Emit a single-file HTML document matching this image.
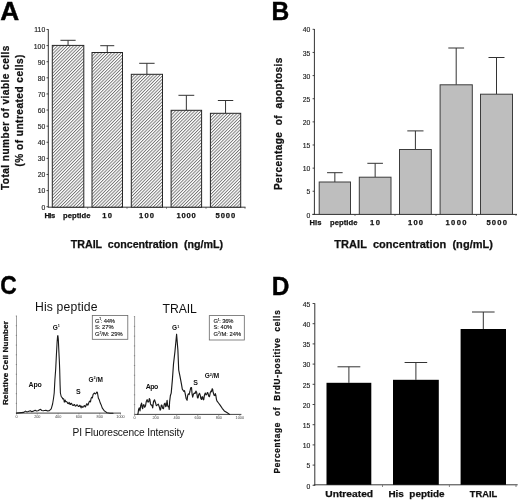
<!DOCTYPE html>
<html><head><meta charset="utf-8"><style>
html,body{margin:0;padding:0;background:#fff;}
svg{display:block;will-change:transform;filter:blur(0.35px);}
text{font-family:"Liberation Sans",sans-serif;white-space:pre;}
</style></head><body>
<svg width="520" height="502" viewBox="0 0 520 502">
<defs>
<pattern id="hatch" patternUnits="userSpaceOnUse" width="2.27" height="10" patternTransform="rotate(45)">
<rect width="2.27" height="10" fill="#fff"/>
<line x1="0.5" y1="0" x2="0.5" y2="10" stroke="#5c5c5c" stroke-width="0.78"/>
</pattern>
</defs>
<rect width="520" height="502" fill="#fff"/>
<text transform="translate(0.25,19.9) scale(1.035,1)" font-size="25.4" font-weight="bold" fill="#000" stroke="#000" stroke-width="0.4">A</text>
<line x1="48.3" y1="29.2" x2="48.3" y2="207.7" stroke="#333" stroke-width="1"/>
<line x1="48.3" y1="207.2" x2="245.5" y2="207.2" stroke="#333" stroke-width="1"/>
<line x1="46.5" y1="206.7" x2="48.3" y2="206.7" stroke="#333" stroke-width="0.9"/>
<text x="45.2" y="209.6" font-size="6.8" text-anchor="end" fill="#1e1e1e" stroke="#1e1e1e" stroke-width="0.15">0</text>
<line x1="46.5" y1="190.58999999999997" x2="48.3" y2="190.58999999999997" stroke="#333" stroke-width="0.9"/>
<text x="45.2" y="193.48999999999998" font-size="6.8" text-anchor="end" fill="#1e1e1e" stroke="#1e1e1e" stroke-width="0.15">10</text>
<line x1="46.5" y1="174.48" x2="48.3" y2="174.48" stroke="#333" stroke-width="0.9"/>
<text x="45.2" y="177.38" font-size="6.8" text-anchor="end" fill="#1e1e1e" stroke="#1e1e1e" stroke-width="0.15">20</text>
<line x1="46.5" y1="158.37" x2="48.3" y2="158.37" stroke="#333" stroke-width="0.9"/>
<text x="45.2" y="161.27" font-size="6.8" text-anchor="end" fill="#1e1e1e" stroke="#1e1e1e" stroke-width="0.15">30</text>
<line x1="46.5" y1="142.26" x2="48.3" y2="142.26" stroke="#333" stroke-width="0.9"/>
<text x="45.2" y="145.16" font-size="6.8" text-anchor="end" fill="#1e1e1e" stroke="#1e1e1e" stroke-width="0.15">40</text>
<line x1="46.5" y1="126.14999999999999" x2="48.3" y2="126.14999999999999" stroke="#333" stroke-width="0.9"/>
<text x="45.2" y="129.04999999999998" font-size="6.8" text-anchor="end" fill="#1e1e1e" stroke="#1e1e1e" stroke-width="0.15">50</text>
<line x1="46.5" y1="110.03999999999999" x2="48.3" y2="110.03999999999999" stroke="#333" stroke-width="0.9"/>
<text x="45.2" y="112.94" font-size="6.8" text-anchor="end" fill="#1e1e1e" stroke="#1e1e1e" stroke-width="0.15">60</text>
<line x1="46.5" y1="93.92999999999999" x2="48.3" y2="93.92999999999999" stroke="#333" stroke-width="0.9"/>
<text x="45.2" y="96.83" font-size="6.8" text-anchor="end" fill="#1e1e1e" stroke="#1e1e1e" stroke-width="0.15">70</text>
<line x1="46.5" y1="77.82" x2="48.3" y2="77.82" stroke="#333" stroke-width="0.9"/>
<text x="45.2" y="80.72" font-size="6.8" text-anchor="end" fill="#1e1e1e" stroke="#1e1e1e" stroke-width="0.15">80</text>
<line x1="46.5" y1="61.70999999999998" x2="48.3" y2="61.70999999999998" stroke="#333" stroke-width="0.9"/>
<text x="45.2" y="64.60999999999999" font-size="6.8" text-anchor="end" fill="#1e1e1e" stroke="#1e1e1e" stroke-width="0.15">90</text>
<line x1="46.5" y1="45.599999999999994" x2="48.3" y2="45.599999999999994" stroke="#333" stroke-width="0.9"/>
<text x="45.2" y="48.49999999999999" font-size="6.8" text-anchor="end" fill="#1e1e1e" stroke="#1e1e1e" stroke-width="0.15">100</text>
<line x1="46.5" y1="29.48999999999998" x2="48.3" y2="29.48999999999998" stroke="#333" stroke-width="0.9"/>
<text x="45.2" y="32.38999999999998" font-size="6.8" text-anchor="end" fill="#1e1e1e" stroke="#1e1e1e" stroke-width="0.15">110</text>
<line x1="68.05" y1="40.3" x2="68.05" y2="45.4" stroke="#333" stroke-width="1"/>
<line x1="60.449999999999996" y1="40.3" x2="75.64999999999999" y2="40.3" stroke="#333" stroke-width="1"/>
<rect x="52.3" y="45.4" width="31.5" height="161.79999999999998" fill="url(#hatch)" stroke="#262626" stroke-width="1"/>
<line x1="107.25" y1="45.7" x2="107.25" y2="52.5" stroke="#333" stroke-width="1"/>
<line x1="100.25" y1="45.7" x2="114.25" y2="45.7" stroke="#333" stroke-width="1"/>
<rect x="92" y="52.5" width="30.5" height="154.7" fill="url(#hatch)" stroke="#262626" stroke-width="1"/>
<line x1="146.9" y1="63.3" x2="146.9" y2="74.3" stroke="#333" stroke-width="1"/>
<line x1="139.20000000000002" y1="63.3" x2="154.6" y2="63.3" stroke="#333" stroke-width="1"/>
<rect x="131.3" y="74.3" width="31.19999999999999" height="132.89999999999998" fill="url(#hatch)" stroke="#262626" stroke-width="1"/>
<line x1="186.35" y1="95.3" x2="186.35" y2="110.3" stroke="#333" stroke-width="1"/>
<line x1="178.45" y1="95.3" x2="194.25" y2="95.3" stroke="#333" stroke-width="1"/>
<rect x="171.1" y="110.3" width="30.5" height="96.89999999999999" fill="url(#hatch)" stroke="#262626" stroke-width="1"/>
<line x1="225.55" y1="100.5" x2="225.55" y2="113.3" stroke="#333" stroke-width="1"/>
<line x1="217.85000000000002" y1="100.5" x2="233.25" y2="100.5" stroke="#333" stroke-width="1"/>
<rect x="210.4" y="113.3" width="30.299999999999983" height="93.89999999999999" fill="url(#hatch)" stroke="#262626" stroke-width="1"/>
<line x1="87.7" y1="207.2" x2="87.7" y2="208.7" stroke="#444" stroke-width="0.8"/>
<line x1="127" y1="207.2" x2="127" y2="208.7" stroke="#444" stroke-width="0.8"/>
<line x1="166.5" y1="207.2" x2="166.5" y2="208.7" stroke="#444" stroke-width="0.8"/>
<line x1="206" y1="207.2" x2="206" y2="208.7" stroke="#444" stroke-width="0.8"/>
<line x1="245" y1="207.2" x2="245" y2="208.7" stroke="#444" stroke-width="0.8"/>
<text x="44.4" y="217.6" font-size="7.6" font-weight="bold" textLength="10.800000000000004" lengthAdjust="spacing" fill="#151515" stroke="#111" stroke-width="0.25">His</text>
<text x="63" y="217.6" font-size="7.6" font-weight="bold" textLength="27.5" lengthAdjust="spacing" fill="#151515" stroke="#111" stroke-width="0.25">peptide</text>
<text x="102.2" y="217.6" font-size="7.6" font-weight="bold" textLength="9.799999999999997" lengthAdjust="spacing" fill="#151515" stroke="#111" stroke-width="0.25">1 0</text>
<text x="139" y="217.6" font-size="7.6" font-weight="bold" textLength="15" lengthAdjust="spacing" fill="#151515" stroke="#111" stroke-width="0.25">100</text>
<text x="176.5" y="217.6" font-size="7.6" font-weight="bold" textLength="19.30000000000001" lengthAdjust="spacing" fill="#151515" stroke="#111" stroke-width="0.25">1000</text>
<text x="215.6" y="217.6" font-size="7.6" font-weight="bold" textLength="19.599999999999994" lengthAdjust="spacing" fill="#151515" stroke="#111" stroke-width="0.25">5000</text>
<text x="70.8" y="247.7" font-size="10.7" font-weight="bold" textLength="152.2" lengthAdjust="spacing" fill="#111" stroke="#111" stroke-width="0.25">TRAIL  concentration  (ng/mL)</text>
<text x="0" y="0" font-size="10.1" text-anchor="middle" font-weight="bold" textLength="144.5" lengthAdjust="spacing" fill="#111" stroke="#111" stroke-width="0.25" transform="translate(9.4,117.8) rotate(-90)">Total number of viable cells</text>
<text x="0" y="0" font-size="10.1" text-anchor="middle" font-weight="bold" textLength="112" lengthAdjust="spacing" fill="#111" stroke="#111" stroke-width="0.25" transform="translate(22.6,110.5) rotate(-90)">(% of untreated cells)</text>
<text transform="translate(271.55,19.6) scale(0.968,1)" font-size="25.4" font-weight="bold" fill="#000" stroke="#000" stroke-width="0.4">B</text>
<line x1="314.4" y1="29.0" x2="314.4" y2="214.9" stroke="#333" stroke-width="1"/>
<line x1="312.4" y1="214.4" x2="517" y2="214.4" stroke="#333" stroke-width="1"/>
<line x1="312.59999999999997" y1="214.4" x2="314.4" y2="214.4" stroke="#333" stroke-width="0.9"/>
<text x="310.3" y="217.5" font-size="6.8" text-anchor="end" fill="#1e1e1e" stroke="#1e1e1e" stroke-width="0.15">0</text>
<line x1="312.59999999999997" y1="191.26500000000001" x2="314.4" y2="191.26500000000001" stroke="#333" stroke-width="0.9"/>
<text x="310.3" y="194.365" font-size="6.8" text-anchor="end" fill="#1e1e1e" stroke="#1e1e1e" stroke-width="0.15">5</text>
<line x1="312.59999999999997" y1="168.13" x2="314.4" y2="168.13" stroke="#333" stroke-width="0.9"/>
<text x="310.3" y="171.23" font-size="6.8" text-anchor="end" fill="#1e1e1e" stroke="#1e1e1e" stroke-width="0.15">10</text>
<line x1="312.59999999999997" y1="144.995" x2="314.4" y2="144.995" stroke="#333" stroke-width="0.9"/>
<text x="310.3" y="148.095" font-size="6.8" text-anchor="end" fill="#1e1e1e" stroke="#1e1e1e" stroke-width="0.15">15</text>
<line x1="312.59999999999997" y1="121.86000000000001" x2="314.4" y2="121.86000000000001" stroke="#333" stroke-width="0.9"/>
<text x="310.3" y="124.96000000000001" font-size="6.8" text-anchor="end" fill="#1e1e1e" stroke="#1e1e1e" stroke-width="0.15">20</text>
<line x1="312.59999999999997" y1="98.72500000000001" x2="314.4" y2="98.72500000000001" stroke="#333" stroke-width="0.9"/>
<text x="310.3" y="101.825" font-size="6.8" text-anchor="end" fill="#1e1e1e" stroke="#1e1e1e" stroke-width="0.15">25</text>
<line x1="312.59999999999997" y1="75.59" x2="314.4" y2="75.59" stroke="#333" stroke-width="0.9"/>
<text x="310.3" y="78.69" font-size="6.8" text-anchor="end" fill="#1e1e1e" stroke="#1e1e1e" stroke-width="0.15">30</text>
<line x1="312.59999999999997" y1="52.45500000000001" x2="314.4" y2="52.45500000000001" stroke="#333" stroke-width="0.9"/>
<text x="310.3" y="55.555000000000014" font-size="6.8" text-anchor="end" fill="#1e1e1e" stroke="#1e1e1e" stroke-width="0.15">35</text>
<line x1="312.59999999999997" y1="29.32000000000002" x2="314.4" y2="29.32000000000002" stroke="#333" stroke-width="0.9"/>
<text x="310.3" y="32.42000000000002" font-size="6.8" text-anchor="end" fill="#1e1e1e" stroke="#1e1e1e" stroke-width="0.15">40</text>
<line x1="334.85" y1="172.7" x2="334.85" y2="182.0" stroke="#333" stroke-width="1"/>
<line x1="327.05" y1="172.7" x2="342.65000000000003" y2="172.7" stroke="#333" stroke-width="1"/>
<rect x="319.2" y="182.0" width="31.30000000000001" height="32.400000000000006" fill="#bebebe" stroke="#3c3c3c" stroke-width="1"/>
<line x1="375.15" y1="163.3" x2="375.15" y2="177.2" stroke="#333" stroke-width="1"/>
<line x1="367.34999999999997" y1="163.3" x2="382.95" y2="163.3" stroke="#333" stroke-width="1"/>
<rect x="359.3" y="177.2" width="31.69999999999999" height="37.20000000000002" fill="#bebebe" stroke="#3c3c3c" stroke-width="1"/>
<line x1="415.4" y1="130.9" x2="415.4" y2="149.5" stroke="#333" stroke-width="1"/>
<line x1="407.29999999999995" y1="130.9" x2="423.5" y2="130.9" stroke="#333" stroke-width="1"/>
<rect x="399.5" y="149.5" width="31.80000000000001" height="64.9" fill="#bebebe" stroke="#3c3c3c" stroke-width="1"/>
<line x1="456.20000000000005" y1="48" x2="456.20000000000005" y2="84.8" stroke="#333" stroke-width="1"/>
<line x1="448.30000000000007" y1="48" x2="464.1" y2="48" stroke="#333" stroke-width="1"/>
<rect x="440.1" y="84.8" width="32.19999999999999" height="129.60000000000002" fill="#bebebe" stroke="#3c3c3c" stroke-width="1"/>
<line x1="496.5" y1="57.5" x2="496.5" y2="94.2" stroke="#333" stroke-width="1"/>
<line x1="488.5" y1="57.5" x2="504.5" y2="57.5" stroke="#333" stroke-width="1"/>
<rect x="480.5" y="94.2" width="32.0" height="120.2" fill="#bebebe" stroke="#3c3c3c" stroke-width="1"/>
<line x1="355" y1="214.4" x2="355" y2="215.9" stroke="#444" stroke-width="0.8"/>
<line x1="395" y1="214.4" x2="395" y2="215.9" stroke="#444" stroke-width="0.8"/>
<line x1="436" y1="214.4" x2="436" y2="215.9" stroke="#444" stroke-width="0.8"/>
<line x1="476.5" y1="214.4" x2="476.5" y2="215.9" stroke="#444" stroke-width="0.8"/>
<line x1="516" y1="214.4" x2="516" y2="215.9" stroke="#444" stroke-width="0.8"/>
<text x="309.6" y="225.3" font-size="7.6" font-weight="bold" textLength="11.799999999999955" lengthAdjust="spacing" fill="#151515" stroke="#111" stroke-width="0.25">His</text>
<text x="330" y="225.3" font-size="7.6" font-weight="bold" textLength="27.5" lengthAdjust="spacing" fill="#151515" stroke="#111" stroke-width="0.25">peptide</text>
<text x="370" y="225.3" font-size="7.6" font-weight="bold" textLength="10" lengthAdjust="spacing" fill="#151515" stroke="#111" stroke-width="0.25">1 0</text>
<text x="408" y="225.3" font-size="7.6" font-weight="bold" textLength="15" lengthAdjust="spacing" fill="#151515" stroke="#111" stroke-width="0.25">100</text>
<text x="445.5" y="225.3" font-size="7.6" font-weight="bold" textLength="21.0" lengthAdjust="spacing" fill="#151515" stroke="#111" stroke-width="0.25">1000</text>
<text x="486.4" y="225.3" font-size="7.6" font-weight="bold" textLength="20.600000000000023" lengthAdjust="spacing" fill="#151515" stroke="#111" stroke-width="0.25">5000</text>
<text x="334.3" y="247.7" font-size="11.0" font-weight="bold" textLength="158.7" lengthAdjust="spacing" fill="#111" stroke="#111" stroke-width="0.25">TRAIL  concentration  (ng/mL)</text>
<text x="0" y="0" font-size="10" text-anchor="middle" font-weight="bold" textLength="132.3" lengthAdjust="spacing" fill="#111" stroke="#111" stroke-width="0.25" transform="translate(281.6,123.9) rotate(-90)">Percentage  of  apoptosis</text>
<text transform="translate(0.22,294.25) scale(0.897,1)" font-size="25.4" font-weight="bold" fill="#000" stroke="#000" stroke-width="0.4">C</text>
<text x="35" y="310.8" font-size="12.2" textLength="62.5" lengthAdjust="spacing" fill="#111" >His peptide</text>
<text x="162.5" y="312.5" font-size="12.2" textLength="34.3" lengthAdjust="spacing" fill="#111" >TRAIL</text>
<text x="72.5" y="435.6" font-size="10.2" textLength="111.8" lengthAdjust="spacing" fill="#111" >PI Fluorescence Intensity</text>
<text x="0" y="0" font-size="8.1" text-anchor="middle" font-weight="bold" textLength="84.0" lengthAdjust="spacing" fill="#111" stroke="#111" stroke-width="0.25" transform="translate(7.7,363.0) rotate(-90)">Relative Cell Number</text>
<line x1="16.5" y1="316" x2="16.5" y2="413.5" stroke="#8a8a8a" stroke-width="0.8"/>
<line x1="16.5" y1="413.1" x2="121" y2="413.1" stroke="#444" stroke-width="1"/>
<line x1="134.6" y1="316.6" x2="134.6" y2="414.8" stroke="#8a8a8a" stroke-width="0.8"/>
<line x1="134.6" y1="414.4" x2="241.4" y2="414.4" stroke="#444" stroke-width="1"/>
<line x1="16.5" y1="413" x2="16.5" y2="414.5" stroke="#666" stroke-width="0.6"/>
<text x="16.5" y="417.7" font-size="3.8" text-anchor="middle" fill="#444" >0</text>
<line x1="134.6" y1="414.4" x2="134.6" y2="416" stroke="#666" stroke-width="0.6"/>
<text x="134.6" y="419.2" font-size="3.8" text-anchor="middle" fill="#444" >0</text>
<line x1="37.3" y1="413" x2="37.3" y2="414.5" stroke="#666" stroke-width="0.6"/>
<text x="37.3" y="417.7" font-size="3.8" text-anchor="middle" fill="#444" >200</text>
<line x1="155.65" y1="414.4" x2="155.65" y2="416" stroke="#666" stroke-width="0.6"/>
<text x="155.65" y="419.2" font-size="3.8" text-anchor="middle" fill="#444" >200</text>
<line x1="58.1" y1="413" x2="58.1" y2="414.5" stroke="#666" stroke-width="0.6"/>
<text x="58.1" y="417.7" font-size="3.8" text-anchor="middle" fill="#444" >400</text>
<line x1="176.7" y1="414.4" x2="176.7" y2="416" stroke="#666" stroke-width="0.6"/>
<text x="176.7" y="419.2" font-size="3.8" text-anchor="middle" fill="#444" >400</text>
<line x1="78.9" y1="413" x2="78.9" y2="414.5" stroke="#666" stroke-width="0.6"/>
<text x="78.9" y="417.7" font-size="3.8" text-anchor="middle" fill="#444" >600</text>
<line x1="197.75" y1="414.4" x2="197.75" y2="416" stroke="#666" stroke-width="0.6"/>
<text x="197.75" y="419.2" font-size="3.8" text-anchor="middle" fill="#444" >600</text>
<line x1="99.7" y1="413" x2="99.7" y2="414.5" stroke="#666" stroke-width="0.6"/>
<text x="99.7" y="417.7" font-size="3.8" text-anchor="middle" fill="#444" >800</text>
<line x1="218.8" y1="414.4" x2="218.8" y2="416" stroke="#666" stroke-width="0.6"/>
<text x="218.8" y="419.2" font-size="3.8" text-anchor="middle" fill="#444" >800</text>
<line x1="120.5" y1="413" x2="120.5" y2="414.5" stroke="#666" stroke-width="0.6"/>
<text x="120.5" y="417.7" font-size="3.8" text-anchor="middle" fill="#444" >1000</text>
<line x1="239.85" y1="414.4" x2="239.85" y2="416" stroke="#666" stroke-width="0.6"/>
<text x="239.85" y="419.2" font-size="3.8" text-anchor="middle" fill="#444" >1000</text>
<line x1="15.8" y1="413.1" x2="17.0" y2="413.1" stroke="#777" stroke-width="0.8"/>
<line x1="133.9" y1="414.4" x2="135.1" y2="414.4" stroke="#777" stroke-width="0.8"/>
<line x1="15.8" y1="403.39000000000004" x2="17.0" y2="403.39000000000004" stroke="#777" stroke-width="0.8"/>
<line x1="133.9" y1="404.62" x2="135.1" y2="404.62" stroke="#777" stroke-width="0.8"/>
<line x1="15.8" y1="393.68" x2="17.0" y2="393.68" stroke="#777" stroke-width="0.8"/>
<line x1="133.9" y1="394.84" x2="135.1" y2="394.84" stroke="#777" stroke-width="0.8"/>
<line x1="15.8" y1="383.97" x2="17.0" y2="383.97" stroke="#777" stroke-width="0.8"/>
<line x1="133.9" y1="385.06" x2="135.1" y2="385.06" stroke="#777" stroke-width="0.8"/>
<line x1="15.8" y1="374.26" x2="17.0" y2="374.26" stroke="#777" stroke-width="0.8"/>
<line x1="133.9" y1="375.28" x2="135.1" y2="375.28" stroke="#777" stroke-width="0.8"/>
<line x1="15.8" y1="364.55" x2="17.0" y2="364.55" stroke="#777" stroke-width="0.8"/>
<line x1="133.9" y1="365.5" x2="135.1" y2="365.5" stroke="#777" stroke-width="0.8"/>
<line x1="15.8" y1="354.84000000000003" x2="17.0" y2="354.84000000000003" stroke="#777" stroke-width="0.8"/>
<line x1="133.9" y1="355.71999999999997" x2="135.1" y2="355.71999999999997" stroke="#777" stroke-width="0.8"/>
<line x1="15.8" y1="345.13" x2="17.0" y2="345.13" stroke="#777" stroke-width="0.8"/>
<line x1="133.9" y1="345.94" x2="135.1" y2="345.94" stroke="#777" stroke-width="0.8"/>
<line x1="15.8" y1="335.42" x2="17.0" y2="335.42" stroke="#777" stroke-width="0.8"/>
<line x1="133.9" y1="336.15999999999997" x2="135.1" y2="336.15999999999997" stroke="#777" stroke-width="0.8"/>
<line x1="15.8" y1="325.71000000000004" x2="17.0" y2="325.71000000000004" stroke="#777" stroke-width="0.8"/>
<line x1="133.9" y1="326.38" x2="135.1" y2="326.38" stroke="#777" stroke-width="0.8"/>
<line x1="15.8" y1="316.0" x2="17.0" y2="316.0" stroke="#777" stroke-width="0.8"/>
<line x1="133.9" y1="316.59999999999997" x2="135.1" y2="316.59999999999997" stroke="#777" stroke-width="0.8"/>
<rect x="92.3" y="315.4" width="35.5" height="23.9" fill="none" stroke="#666" stroke-width="0.8"/>
<rect x="209.3" y="315.6" width="35" height="24.4" fill="none" stroke="#666" stroke-width="0.8"/>
<text x="94.9" y="322.5" font-size="5.8" fill="#111" stroke="#111" stroke-width="0.12" textLength="19.9" lengthAdjust="spacing">G<tspan font-size="3.4" dy="-2.2">1</tspan><tspan dy="2.2">: 44%</tspan></text>
<text x="94.9" y="329.2" font-size="5.8" fill="#111" stroke="#111" stroke-width="0.12">S: 27%</text>
<text x="94.9" y="335.9" font-size="5.8" fill="#111" stroke="#111" stroke-width="0.12">G<tspan font-size="3.4" dy="-2.2">2</tspan><tspan dy="2.2">/M: 29%</tspan></text>
<text x="213.4" y="322.7" font-size="5.8" fill="#111" stroke="#111" stroke-width="0.12" textLength="19.9" lengthAdjust="spacing">G<tspan font-size="3.4" dy="-2.2">1</tspan><tspan dy="2.2">: 36%</tspan></text>
<text x="213.4" y="329.4" font-size="5.8" fill="#111" stroke="#111" stroke-width="0.12">S: 40%</text>
<text x="213.4" y="336.09999999999997" font-size="5.8" fill="#111" stroke="#111" stroke-width="0.12">G<tspan font-size="3.4" dy="-2.2">2</tspan><tspan dy="2.2">/M: 24%</tspan></text>
<text x="52.7" y="329.8" font-size="6.5" font-weight="bold" fill="#111">G<tspan font-size="3.8" dy="-2.6">1</tspan></text>
<text x="88.5" y="381.5" font-size="6.5" font-weight="bold" fill="#111">G<tspan font-size="3.8" dy="-2.6">2</tspan><tspan dy="2.6">/M</tspan></text>
<text x="172.1" y="330.2" font-size="6.5" font-weight="bold" fill="#111">G<tspan font-size="3.8" dy="-2.6">1</tspan></text>
<text x="204.8" y="378.2" font-size="6.5" font-weight="bold" fill="#111">G<tspan font-size="3.8" dy="-2.6">2</tspan><tspan dy="2.6">/M</tspan></text>
<text x="28.6" y="387.2" font-size="7" font-weight="bold" textLength="13.2" lengthAdjust="spacing" fill="#111" >Apo</text>
<text x="145.8" y="388.6" font-size="7" font-weight="bold" textLength="12.5" lengthAdjust="spacing" fill="#111" >Apo</text>
<text x="75.9" y="394" font-size="7" font-weight="bold" fill="#111" >S</text>
<text x="193.2" y="384.5" font-size="7" font-weight="bold" fill="#111" >S</text>
<polyline points="16.5,413.1 23.7,412.4 25.5,411.1 26.8,411.9 28.2,411.5 30.4,410.7 31.5,411.6 32.6,411.4 35.2,410.2 36.5,411.0 37.9,410.7 40.5,409.3 41.8,410.5 43.2,410.7 45.9,410.2 47.5,410.9 49.4,410.7 51.2,408.9 52.6,404.0 53.5,398.5 54.2,393.0 54.9,380.0 55.7,369.0 56.4,355.0 57.1,342.0 57.6,336.0 57.9,335.6 58.3,339.0 58.8,350.0 59.4,362.0 59.7,370.0 60.1,385.0 60.4,393.0 61.2,396.5 62.3,397.8 62.8,399.0 63.2,398.6 63.8,399.2 64.3,402.1 64.8,400.5 65.2,400.2 65.7,401.8 66.2,401.5 67.1,402.1 67.8,403.5 68.6,403.6 69.0,402.3 69.5,402.8 70.0,404.5 70.5,404.5 71.0,403.2 71.5,403.2 72.5,405.3 73.4,405.5 74.0,404.4 74.5,404.6 75.4,406.1 76.3,405.8 76.9,404.8 77.5,405.0 78.3,406.4 79.2,406.4 79.7,405.2 80.2,405.7 81.1,407.9 81.7,406.1 82.2,406.5 82.8,407.4 83.5,406.9 84.2,405.6 84.8,405.8 85.3,406.9 85.9,406.0 86.6,403.8 87.3,404.0 87.8,405.2 88.2,404.6 89.0,402.1 89.7,401.2 90.5,401.8 91.1,398.4 91.7,397.3 92.4,397.9 93.1,394.4 94.5,393.0 95.3,393.9 96.0,393.5 96.8,392.0 97.4,392.5 98.4,398.3 99.2,399.6 100.3,403.1 101.3,405.2 102.2,407.9 104.2,410.8 105.5,411.6 107.0,412.7 110.0,413.2 113.0,413.2" fill="none" stroke="#1a1a1a" stroke-width="1.1" stroke-linejoin="round" stroke-linecap="round"/>
<polyline points="137.5,414.2 138.0,413.9 138.6,409.4 139.2,407.9 140.0,410.9 140.8,405.1 141.6,403.1 142.1,407.5 142.7,408.7 143.3,404.8 143.9,404.7 144.7,407.3 145.5,405.9 146.3,401.5 147.1,399.6 147.9,402.0 148.7,402.0 149.3,398.6 149.9,399.6 150.5,403.9 151.1,405.1 151.9,405.0 152.7,407.9 153.5,401.6 154.5,399.8 155.5,402.7 156.3,405.7 157.1,405.1 158.3,404.1 159.5,407.5 160.1,410.1 160.7,409.1 161.3,405.1 161.9,405.1 162.7,408.3 163.5,408.7 164.3,403.9 165.1,403.1 165.7,406.7 166.3,405.9 167.1,400.4 167.6,405.4 168.2,406.7 168.7,406.0 169.2,409.5 169.6,401.9 170.4,395.5 171.2,393.1 172.4,379.6 173.5,364.0 174.9,352.0 176.6,334.2 177.9,350.3 178.7,370.0 180.0,376.4 181.5,384.3 182.3,389.1 183.9,391.5 184.5,390.7 185.1,393.1 186.1,398.4 187.1,400.3 187.7,395.4 188.3,393.9 189.1,394.6 189.9,391.5 190.7,387.8 191.5,387.5 192.1,394.1 192.7,397.1 193.5,394.1 194.3,393.1 195.1,393.5 195.9,391.1 196.7,392.6 197.5,397.9 198.1,397.9 198.7,394.7 199.5,393.3 200.3,395.5 200.9,398.6 201.5,399.5 202.1,396.7 202.6,396.7 203.1,399.4 203.7,399.8 204.5,394.9 205.3,393.0 206.1,395.0 206.9,394.0 207.4,392.5 207.9,393.0 208.7,396.0 209.5,396.7 210.3,392.6 211.1,390.9 211.6,391.7 212.1,388.8 212.6,389.0 213.2,392.5 214.0,395.2 214.8,395.6 215.3,393.6 215.8,395.1 216.4,399.1 216.9,400.9 218.5,403.0 220.1,405.1 222.2,408.3 224.3,410.9 226.9,412.5 229.6,414.4" fill="none" stroke="#1a1a1a" stroke-width="1.15" stroke-linejoin="round" stroke-linecap="round"/>
<text transform="translate(271.86,294.5) scale(0.963,1)" font-size="25.4" font-weight="bold" fill="#000" stroke="#000" stroke-width="0.4">D</text>
<line x1="314.8" y1="303.3" x2="314.8" y2="485.8" stroke="#333" stroke-width="1"/>
<line x1="313.8" y1="484.8" x2="517.7" y2="484.8" stroke="#3a3a3a" stroke-width="1"/>
<line x1="312.6" y1="485.3" x2="314.8" y2="485.3" stroke="#333" stroke-width="0.9"/>
<text x="310.4" y="488.5" font-size="6.8" text-anchor="end" fill="#1e1e1e" stroke="#1e1e1e" stroke-width="0.15">0</text>
<line x1="312.6" y1="465.1" x2="314.8" y2="465.1" stroke="#333" stroke-width="0.9"/>
<text x="310.4" y="468.3" font-size="6.8" text-anchor="end" fill="#1e1e1e" stroke="#1e1e1e" stroke-width="0.15">5</text>
<line x1="312.6" y1="444.90000000000003" x2="314.8" y2="444.90000000000003" stroke="#333" stroke-width="0.9"/>
<text x="310.4" y="448.1" font-size="6.8" text-anchor="end" fill="#1e1e1e" stroke="#1e1e1e" stroke-width="0.15">10</text>
<line x1="312.6" y1="424.7" x2="314.8" y2="424.7" stroke="#333" stroke-width="0.9"/>
<text x="310.4" y="427.9" font-size="6.8" text-anchor="end" fill="#1e1e1e" stroke="#1e1e1e" stroke-width="0.15">15</text>
<line x1="312.6" y1="404.5" x2="314.8" y2="404.5" stroke="#333" stroke-width="0.9"/>
<text x="310.4" y="407.7" font-size="6.8" text-anchor="end" fill="#1e1e1e" stroke="#1e1e1e" stroke-width="0.15">20</text>
<line x1="312.6" y1="384.3" x2="314.8" y2="384.3" stroke="#333" stroke-width="0.9"/>
<text x="310.4" y="387.5" font-size="6.8" text-anchor="end" fill="#1e1e1e" stroke="#1e1e1e" stroke-width="0.15">25</text>
<line x1="312.6" y1="364.1" x2="314.8" y2="364.1" stroke="#333" stroke-width="0.9"/>
<text x="310.4" y="367.3" font-size="6.8" text-anchor="end" fill="#1e1e1e" stroke="#1e1e1e" stroke-width="0.15">30</text>
<line x1="312.6" y1="343.9" x2="314.8" y2="343.9" stroke="#333" stroke-width="0.9"/>
<text x="310.4" y="347.09999999999997" font-size="6.8" text-anchor="end" fill="#1e1e1e" stroke="#1e1e1e" stroke-width="0.15">35</text>
<line x1="312.6" y1="323.70000000000005" x2="314.8" y2="323.70000000000005" stroke="#333" stroke-width="0.9"/>
<text x="310.4" y="326.90000000000003" font-size="6.8" text-anchor="end" fill="#1e1e1e" stroke="#1e1e1e" stroke-width="0.15">40</text>
<line x1="312.6" y1="303.5" x2="314.8" y2="303.5" stroke="#333" stroke-width="0.9"/>
<text x="310.4" y="306.7" font-size="6.8" text-anchor="end" fill="#1e1e1e" stroke="#1e1e1e" stroke-width="0.15">45</text>
<line x1="348.9" y1="366.8" x2="348.9" y2="382.8" stroke="#333" stroke-width="1"/>
<line x1="337.5" y1="366.8" x2="360.29999999999995" y2="366.8" stroke="#333" stroke-width="1"/>
<rect x="326.5" y="382.8" width="44.80000000000001" height="102.0" fill="#000"/>
<line x1="415.9" y1="362.5" x2="415.9" y2="379.8" stroke="#333" stroke-width="1"/>
<line x1="404.59999999999997" y1="362.5" x2="427.2" y2="362.5" stroke="#333" stroke-width="1"/>
<rect x="393" y="379.8" width="45.80000000000001" height="105.0" fill="#000"/>
<line x1="483.3" y1="312" x2="483.3" y2="329" stroke="#333" stroke-width="1"/>
<line x1="472.0" y1="312" x2="494.6" y2="312" stroke="#333" stroke-width="1"/>
<rect x="460.6" y="329" width="45.39999999999998" height="155.8" fill="#000"/>
<line x1="382.5" y1="485.3" x2="382.5" y2="486.8" stroke="#444" stroke-width="0.8"/>
<line x1="449.4" y1="485.3" x2="449.4" y2="486.8" stroke="#444" stroke-width="0.8"/>
<line x1="516" y1="485.3" x2="516" y2="486.8" stroke="#444" stroke-width="0.8"/>
<text x="325.3" y="497.4" font-size="9.1" font-weight="bold" textLength="47.8" lengthAdjust="spacingAndGlyphs" fill="#111" stroke="#111" stroke-width="0.25">Untreated</text>
<text x="388.4" y="497.4" font-size="9.1" font-weight="bold" textLength="56.2" lengthAdjust="spacingAndGlyphs" fill="#111" stroke="#111" stroke-width="0.25">His  peptide</text>
<text x="469.8" y="497.3" font-size="9.1" font-weight="bold" textLength="27.4" lengthAdjust="spacingAndGlyphs" fill="#111" stroke="#111" stroke-width="0.25">TRAIL</text>
<text x="0" y="0" font-size="8.2" text-anchor="middle" font-weight="bold" textLength="163.2" lengthAdjust="spacing" fill="#111" stroke="#111" stroke-width="0.25" transform="translate(280.2,391.9) rotate(-90)">Percentage  of  BrdU-positive  cells</text>
</svg>
</body></html>
